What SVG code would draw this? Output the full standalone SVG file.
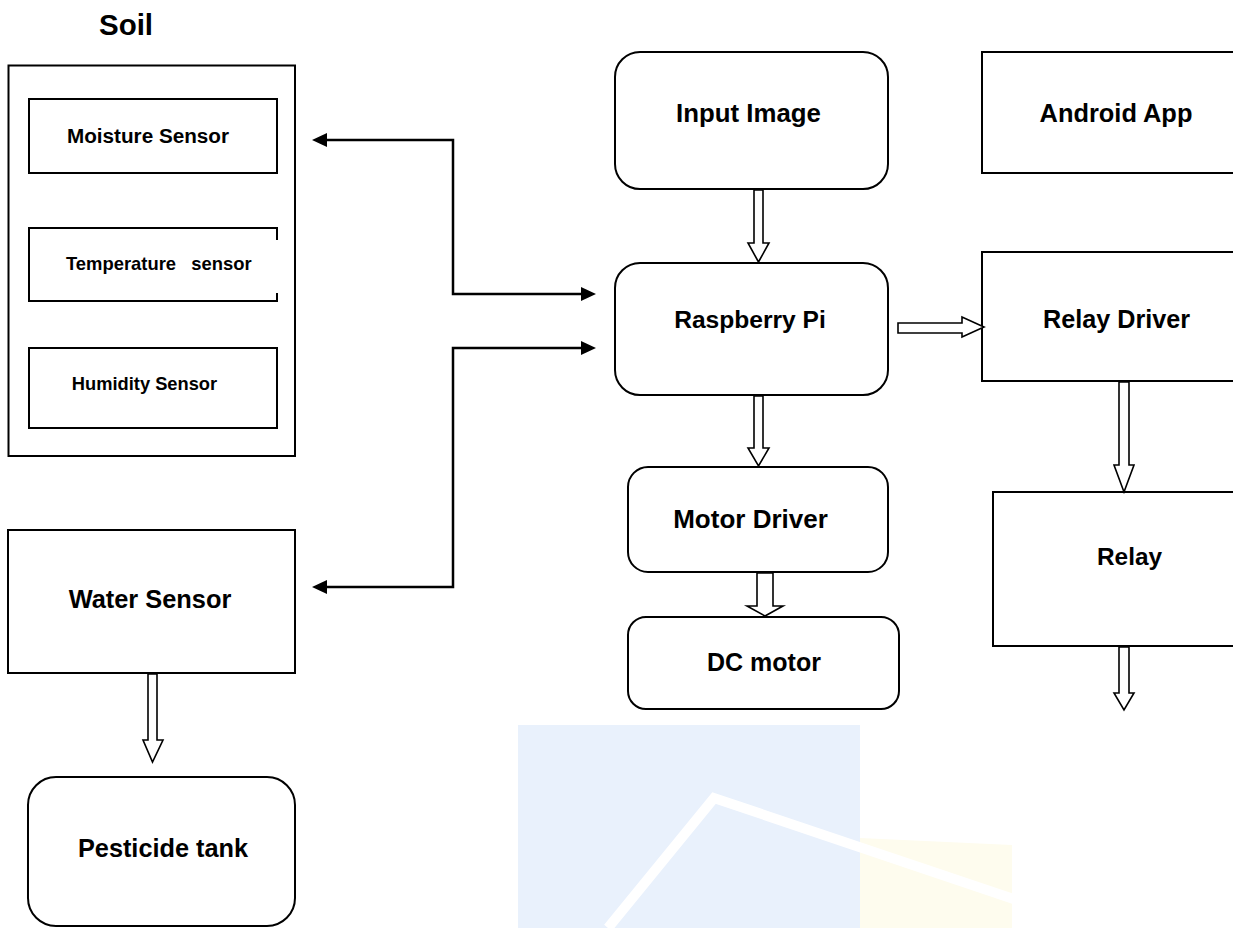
<svg xmlns="http://www.w3.org/2000/svg" width="1233" height="928" viewBox="0 0 1233 928">
  <style>
    .box { fill: #ffffff; stroke: #000000; stroke-width: 2; }
    .open { fill: none; stroke: #000000; stroke-width: 2; }
    .lbl { font-family: "Liberation Sans", Arial, sans-serif; font-weight: bold; fill: #000000; text-anchor: middle; }
    .conn { fill: none; stroke: #000000; stroke-width: 2.5; }
    .block { fill: #ffffff; stroke: #000000; stroke-width: 1.6; stroke-linejoin: miter; }
  </style>
  <defs>
    <marker id="tri" markerUnits="userSpaceOnUse" markerWidth="15" markerHeight="14" refX="11" refY="7" orient="auto-start-reverse">
      <path d="M0,0 L15,7 L0,14 Z" fill="#000000"/>
    </marker>
  </defs>
  <rect x="0" y="0" width="1233" height="928" fill="#ffffff"/>

  <g id="watermark">
    <rect x="518" y="725" width="342" height="203" fill="#e9f1fc"/>
    <polygon points="860,838 1012,845 1012,928 860,928" fill="#fefcee"/>
    <polyline points="608,928 714,798 1088,924" fill="none" stroke="#ffffff" stroke-width="10"/>
  </g>

  <g id="soil-label">
    <text class="lbl" x="126" y="35" font-size="29.5">Soil</text>
  </g>
  <g id="soil">
    <rect class="box" x="8.5" y="65.5" width="286.5" height="390.5"/>
  </g>
  <g id="moisture-sensor">
    <rect class="box" x="29" y="99" width="248" height="74"/>
    <text class="lbl" x="148" y="143" font-size="20.7">Moisture Sensor</text>
  </g>
  <g id="temperature-sensor">
    <path class="open" d="M277,240 V228 H29 V301 H277 V293"/>
    <text class="lbl" x="66" y="270" font-size="18.4" style="text-anchor:start; white-space:pre" xml:space="preserve">Temperature   sensor</text>
  </g>
  <g id="humidity-sensor">
    <rect class="box" x="29" y="348" width="248" height="80"/>
    <text class="lbl" x="144.5" y="390" font-size="18.3">Humidity Sensor</text>
  </g>
  <g id="water-sensor">
    <rect class="box" x="8" y="530" width="287" height="143"/>
    <text class="lbl" x="150" y="608" font-size="25.4">Water Sensor</text>
  </g>
  <g id="pesticide-tank">
    <rect class="box" x="28" y="777" width="267" height="149" rx="28" ry="28"/>
    <text class="lbl" x="163" y="857" font-size="25.3">Pesticide tank</text>
  </g>
  <g id="input-image">
    <rect class="box" x="615" y="52" width="273" height="137" rx="25" ry="25"/>
    <text class="lbl" x="748.5" y="122" font-size="25.8">Input Image</text>
  </g>
  <g id="raspberry-pi">
    <rect class="box" x="615" y="263" width="273" height="132" rx="25" ry="25"/>
    <text class="lbl" x="750" y="328" font-size="24.6">Raspberry Pi</text>
  </g>
  <g id="motor-driver">
    <rect class="box" x="628" y="467" width="260" height="105" rx="20" ry="20"/>
    <text class="lbl" x="750.5" y="528" font-size="26">Motor Driver</text>
  </g>
  <g id="dc-motor">
    <rect class="box" x="628" y="617" width="271" height="92" rx="18" ry="18"/>
    <text class="lbl" x="764" y="671" font-size="25">DC motor</text>
  </g>
  <g id="android-app">
    <rect class="box" x="982" y="52" width="270" height="121"/>
    <text class="lbl" x="1116" y="122" font-size="25.4">Android App</text>
  </g>
  <g id="relay-driver">
    <rect class="box" x="982" y="252" width="270" height="129"/>
    <text class="lbl" x="1116.5" y="328" font-size="25.2">Relay Driver</text>
  </g>
  <g id="relay">
    <rect class="box" x="993" y="492" width="260" height="154"/>
    <text class="lbl" x="1129.5" y="565" font-size="24.4">Relay</text>
  </g>

  <g id="connectors">
    <path class="conn" d="M592,294 H453 V140 H316" marker-start="url(#tri)" marker-end="url(#tri)"/>
    <path class="conn" d="M592,348 H453 V587 H316" marker-start="url(#tri)" marker-end="url(#tri)"/>
    <path class="block" d="M754,190 V243 H748 L758.5,262 L769,243 H763 V190 Z"/>
    <path class="block" d="M754,396 V448 H748 L758.5,466 L769,448 H763 V396 Z"/>
    <path class="block" d="M757,573 V606 H747 L765,616 L783,606 H773 V573 Z"/>
    <path class="block" d="M1119,382 V465 H1114 L1124,492 L1134,465 H1129 V382 Z"/>
    <path class="block" d="M1119,647 V693 H1114 L1124,710 L1134,693 H1129 V647 Z"/>
    <path class="block" d="M148,674 V740 H143 L152.5,762 L163,740 H157 V674 Z"/>
    <path class="block" d="M898,323 H962 V317 L984,327 L962,337 V333 H898 Z"/>
  </g>
</svg>
